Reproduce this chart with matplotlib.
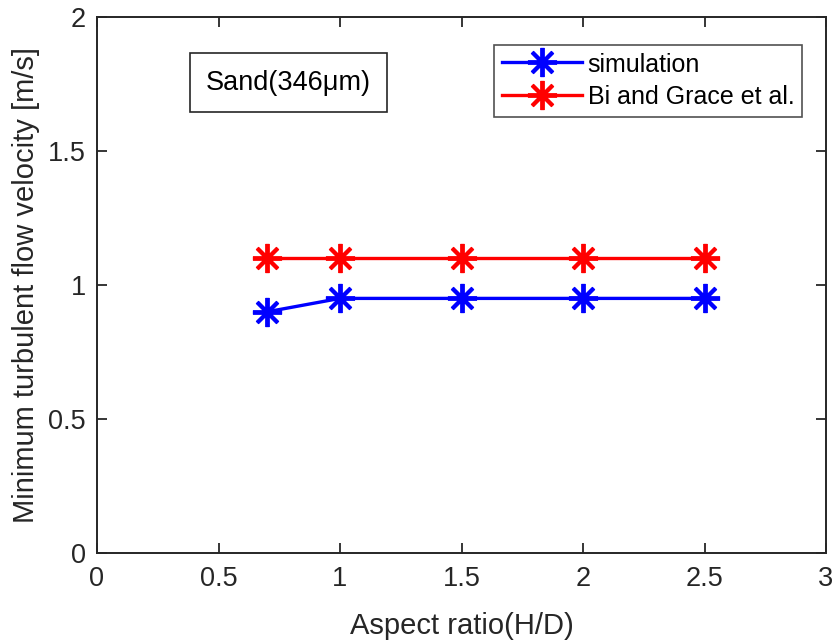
import matplotlib
matplotlib.use("Agg")
import matplotlib.pyplot as plt

aspect_ratio = [0.7, 1.0, 1.5, 2.0, 2.5]
simulation = [0.90, 0.95, 0.95, 0.95, 0.95]
bi_grace = [1.10, 1.10, 1.10, 1.10, 1.10]
x_ticks = [0, 0.5, 1, 1.5, 2, 2.5, 3]
y_ticks = [0, 0.5, 1, 1.5, 2]

plt.rcParams['font.family'] = ['Liberation Sans', 'DejaVu Sans']
fig = plt.figure(figsize=(8.4, 6.41), dpi=100)
ax = fig.add_axes([97/840, 88/641, (826-97)/840, (553-17)/641])

mk = (8, 2, 0)
ax.plot(aspect_ratio, simulation, color='#0000ff', lw=2.4, marker=mk, ms=21, mew=2.8,
        label='simulation')
ax.plot(aspect_ratio, bi_grace, color='#ff0000', lw=2.4, marker=mk, ms=21, mew=2.8,
        label='Bi and Grace et al.')

ax.set_xlim(0, 3)
ax.set_ylim(0, 2)
ax.set_xticks(x_ticks)
ax.set_xticklabels(['0', '0.5', '1', '1.5', '2', '2.5', '3'])
ax.set_yticks(y_ticks)
ax.set_yticklabels(['0', '0.5', '1', '1.5', '2'])
ax.tick_params(direction='in', top=True, right=True, length=7, width=1.3,
               labelsize=19.5, colors='#262626')
ax.tick_params(axis='x', pad=9)
ax.tick_params(axis='y', pad=8)
for s in ax.spines.values():
    s.set_linewidth(1.4)
    s.set_color('#262626')
ax.set_xlabel('Aspect ratio(H/D)', fontsize=21, color='#262626', labelpad=15)
ax.set_ylabel('Minimum turbulent flow velocity [m/s]', fontsize=21, color='#262626', labelpad=6)

leg = ax.legend(loc='upper right', bbox_to_anchor=((802-97)/729, (553-45)/536), fontsize=18,
                frameon=True, fancybox=False, edgecolor='#262626', handlelength=3.2,
                borderpad=0.3, labelspacing=0.3, handletextpad=0.25, borderaxespad=0,
                handleheight=1.0)
leg.get_frame().set_linewidth(1.2)

ax.text((288.5-97)/729, (553-82.5)/536, 'Sand(346μm)', transform=ax.transAxes, fontsize=19.5,
        color='#000000', ha='center', va='center',
        bbox=dict(boxstyle='square,pad=0.6', fc='white', ec='#262626', lw=1.2))

fig.savefig('out.png', dpi=100)
